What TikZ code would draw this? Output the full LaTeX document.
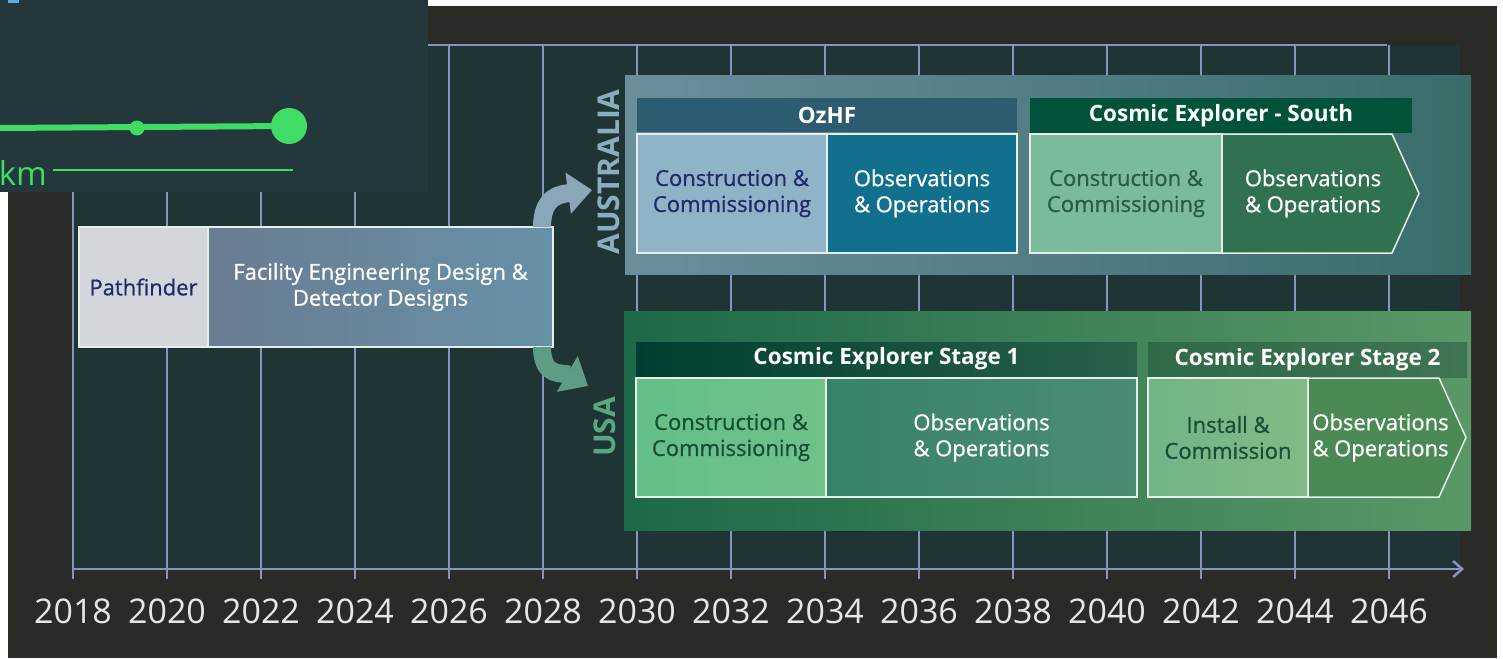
\documentclass[tikz,border=0pt]{standalone}
\usepackage{fontspec}
\setmainfont{Open Sans}
\newfontfamily\semifont{Open Sans}[FakeBold=0.8]
\usetikzlibrary{positioning}
\usetikzlibrary{arrows.meta}

\definecolor{bgdark}{HTML}{2A2A26}
\definecolor{gridfill}{HTML}{1F3434}
\definecolor{gridcol}{HTML}{8A92C4}
\definecolor{yeartext}{HTML}{E6E6E6}
\definecolor{insetbg}{HTML}{24373A}
\definecolor{lasergreen}{HTML}{3FDC66}
\definecolor{markblue}{HTML}{5AAEE0}
\definecolor{pathgray}{HTML}{D3D7DB}
\definecolor{navytext}{HTML}{1E2A6A}
\definecolor{fedL}{HTML}{6A7C91}
\definecolor{fedR}{HTML}{6791A7}
\definecolor{boxline}{HTML}{E6EEEA}
\definecolor{ausL}{HTML}{6B8E9B}
\definecolor{ausR}{HTML}{386D6A}
\definecolor{usaL}{HTML}{1D6947}
\definecolor{usaR}{HTML}{5B9868}
\definecolor{auscol}{HTML}{8CADBF}
\definecolor{usacol}{HTML}{58A87E}
\definecolor{ausarrow}{HTML}{8BA6B8}
\definecolor{usaarrow}{HTML}{5F9C86}
\definecolor{ozhead}{HTML}{2D5B6F}
\definecolor{ozcc}{HTML}{8FB4C7}
\definecolor{ozobs}{HTML}{12708F}
\definecolor{cshead}{HTML}{00533A}
\definecolor{cscc}{HTML}{7BBA9B}
\definecolor{cstext}{HTML}{2A5C44}
\definecolor{csobs}{HTML}{30724F}
\definecolor{ceAhL}{HTML}{003E31}
\definecolor{ceAhR}{HTML}{29614A}
\definecolor{ceAcL}{HTML}{64BF89}
\definecolor{ceAcR}{HTML}{70C18A}
\definecolor{ceAoL}{HTML}{37836A}
\definecolor{ceAoR}{HTML}{4B8C72}
\definecolor{cetext}{HTML}{184E36}
\definecolor{ceBhL}{HTML}{2F6A47}
\definecolor{ceBhR}{HTML}{3F7452}
\definecolor{ceBcL}{HTML}{72B487}
\definecolor{ceBcR}{HTML}{82BA86}
\definecolor{ceBo}{HTML}{4C8A55}

\tikzset{
  gridline/.style={gridcol, line width=2.5pt},
  year/.style={text=yeartext, font=\fontsize{34}{34}\selectfont},
  panel/.style={inner sep=0pt, outer sep=0pt, anchor=north west},
  phase/.style={draw=boxline, line width=1.5pt, inner sep=0pt, outer sep=0pt,
    align=center, anchor=north west, minimum height=119pt,
    font=\semifont\fontsize{22}{26}\selectfont},
  hdr/.style={inner sep=0pt, outer sep=0pt, anchor=north west, text=white,
    font=\bfseries\fontsize{22.5}{26}\selectfont},
  ctry/.style={rotate=90, font=\bfseries\fontsize{30}{30}\selectfont},
  flowarrow/.style={line width=18pt, -{Triangle[length=24pt,width=40pt]}}
}

\begin{document}
\begin{tikzpicture}[x=1pt,y=-1pt]
\useasboundingbox (0,0) rectangle (1503,658);
\fill[white] (0,0) rectangle (1503,658);
\fill[bgdark] (8,6) rectangle (1497,658);
\fill[gridfill] (73,45) rectangle (1460,569);
\draw[gridline] (73,45) -- (1387,45);
\foreach \k in {0,...,14} {
  \pgfmathtruncatemacro\yr{2018+2*\k}
  \draw[gridline] (73+94*\k,45) --++(0,534);
  \node[year] (yr\k) at (73+94*\k,611) {\yr};
}
\draw[gridline, -{Straight Barb[length=9pt,width=16pt]}] (73,569) -- (1464,569);

\begin{scope}
  \clip (0,0) rectangle (428,192);
  \fill[insetbg] (0,0) rectangle (428,192);
  \fill[markblue] (8,0) rectangle (19,3);
  \draw[lasergreen, line width=6pt] (0,128) -- (289,126);
  \fill[lasergreen] (137,128) circle (7.5pt);
  \fill[lasergreen] (289,126) circle (18pt);
  \draw[lasergreen, line width=2.5pt] (53,170) -- (293,170);
  \node[text=lasergreen, anchor=base east, inner sep=0pt,
    font=\fontsize{33}{33}\selectfont] (km) at (47,185) {km};
\end{scope}

\node[panel, left color=ausL, right color=ausR, minimum width=846pt, minimum height=198pt] (auspanel) at (625,76) {};
\node[panel, left color=usaL, right color=usaR, minimum width=847pt, minimum height=219pt] (usapanel) at (624,311) {};
\node[ctry, text=auscol] (auslbl) at (609,172) {AUSTRALIA};
\node[ctry, text=usacol] (usalbl) at (605,427) {USA};

\node[phase, fill=pathgray, text=navytext, minimum width=129pt, minimum height=120pt] (pathf) at (79,227) {Pathfinder};
\node[phase, right=0pt of pathf, left color=fedL, right color=fedR, text=white,
  minimum width=345pt, minimum height=120pt] (fed) {Facility Engineering Design \&\\Detector Designs};

\coordinate (austip) at (592,190);
\coordinate (usatip) at (588,386);
\draw[flowarrow, ausarrow] ([xshift=-11pt]fed.north east) .. controls +(0,-32) and +(-30,4) .. (austip);
\draw[flowarrow, usaarrow] ([xshift=-11pt]fed.south east) .. controls +(0,32) and +(-24,-14) .. (usatip);

\node[hdr, fill=ozhead, minimum width=380pt, minimum height=34pt] (ozhf) at (637,98) {OzHF};
\node[phase, fill=ozcc, text=navytext, minimum width=190pt] (ozcon) at (637,134) {Construction \&\\Commissioning};
\node[phase, right=0pt of ozcon, fill=ozobs, text=white, minimum width=190pt] (ozops) {Observations\\\& Operations};

\node[hdr, fill=cshead, minimum width=382pt, minimum height=35pt] (ces) at (1030,98) {Cosmic Explorer - South};
\node[phase, fill=cscc, text=cstext, minimum width=192pt] (cescon) at (1030,134) {Construction \&\\Commissioning};
\filldraw[fill=csobs, draw=boxline, line width=1.5pt] (cescon.north east) -- ++(170,0) -- ++(27,59.5) -- ++(-27,59.5) -- (cescon.south east) -- cycle;
\node[phase, draw=none, right=0pt of cescon, text=white, minimum width=182pt] (cesops) {Observations\\\& Operations};

\node[hdr, left color=ceAhL, right color=ceAhR, minimum width=501pt, minimum height=34pt] (ceone) at (636,342) {Cosmic Explorer Stage 1};
\node[phase, left color=ceAcL, right color=ceAcR, text=cetext, minimum width=190pt] (ceonecon) at (636,378) {Construction \&\\Commissioning};
\node[phase, right=0pt of ceonecon, left color=ceAoL, right color=ceAoR, text=white, minimum width=311pt] (ceoneops) {Observations\\\& Operations};

\node[hdr, left color=ceBhL, right color=ceBhR, minimum width=319pt, minimum height=35pt] (cetwo) at (1148,342) {Cosmic Explorer Stage 2};
\node[phase, left color=ceBcL, right color=ceBcR, text=cetext, minimum width=160pt] (cetwoins) at (1148,378) {Install \&\\Commission};
\filldraw[fill=ceBo, draw=boxline, line width=1.5pt] (cetwoins.north east) -- ++(131,0) -- ++(27,59.5) -- ++(-27,59.5) -- (cetwoins.south east) -- cycle;
\node[phase, draw=none, right=0pt of cetwoins, text=white, minimum width=145pt] (cetwoops) {Observations\\\& Operations};
\end{tikzpicture}
\end{document}
